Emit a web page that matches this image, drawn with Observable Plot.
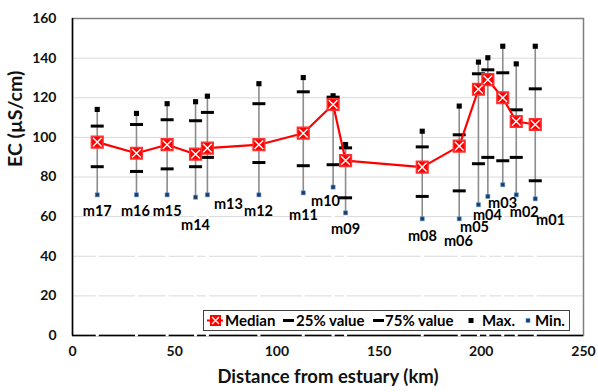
<!DOCTYPE html>
<html>
<head>
<meta charset="utf-8">
<script src="https://cdn.jsdelivr.net/npm/d3@7"></script>
<script src="https://cdn.jsdelivr.net/npm/@observablehq/plot@0.6"></script>
<style>
  html, body { margin: 0; padding: 0; background: #fff; }
  #wrap { position: relative; width: 598px; height: 392px; font-family: Lato, "Open Sans", sans-serif; }
  #wrap svg text { font-family: Lato, "Open Sans", sans-serif; font-weight: bold; }
  #legend { position: absolute; left: 203px; top: 310px; width: 365px; height: 19px; border: 1px solid #404040; background: #fff; font-size: 15px; font-weight: bold; color: #000; }
  #legend .it { position: absolute; top: 0; line-height: 19px; white-space: nowrap; }
  #legend svg { position: absolute; top: 0; }
</style>
</head>
<body>
<div id="wrap"></div>
<script>
const stations = ["m17","m16","m15","m14","m13","m12","m11","m10","m09","m08","m06","m05","m04","m03","m02","m01"];
const distance = [12.1,31.3,46.3,60.2,66.0,91.2,112.9,127.5,133.6,171.1,189.2,198.6,203.2,210.5,217.1,226.4];
const median = [97.6,92.0,96.3,91.5,94.6,96.3,102.1,116.6,88.3,85.0,95.6,124.3,129.1,120.0,108.0,106.5];
const q75 = [105.7,106.5,108.9,108.4,112.6,117.0,123.0,120.3,94.7,95.2,101.3,132.1,134.1,132.6,113.9,124.5];
const q25 = [85.2,82.8,84.1,85.2,89.9,87.3,85.7,86.2,69.5,70.2,73.0,86.7,89.9,88.2,89.9,78.1];
const maxV = [114.1,112.1,117.0,118.0,120.8,127.1,130.2,121.0,96.4,103.1,115.8,138.0,140.2,146.0,137.1,146.0];
const minV = [71.0,71.0,71.0,69.8,71.0,71.0,72.0,74.9,61.9,58.9,58.9,66.0,70.2,76.1,71.0,69.0];
// label anchor positions (km, µS/cm) as placed in the original figure
const labelX = [12.1,30.8,46.3,60.2,76.3,91.0,113.0,123.8,133.6,171.2,188.8,196.7,203.0,210.4,221.0,233.9];
const labelY = [62.7,62.7,62.7,55.7,66.0,62.6,60.6,67.8,53.5,50.0,47.5,54.7,60.6,66.6,62.1,58.1];

const xTicks = [0,50,100,150,200,250];
const yTicks = [0,20,40,60,80,100,120,140,160];

const data = stations.map((s,i) => ({
  name: s, km: distance[i], med: median[i], q75: q75[i], q25: q25[i],
  max: maxV[i], min: minV[i], lx: labelX[i], ly: labelY[i]
}));

const hbar = { draw(ctx) { ctx.moveTo(-6.5, 0); ctx.lineTo(6.5, 0); } };

const chart = Plot.plot({
  width: 598, height: 392,
  marginLeft: 72, marginRight: 15, marginTop: 18, marginBottom: 57,
  style: { background: "#fff", overflow: "visible" },
  x: { domain: [0, 250] },
  y: { domain: [0, 160] },
  marks: [
    Plot.gridY(yTicks, { stroke: "#d9d9d9", strokeOpacity: 1 }),
    Plot.frame({ stroke: "#7f7f7f", strokeWidth: 1.5 }),
    Plot.ruleY([0], { stroke: "#000", strokeWidth: 1.5 }),
    Plot.ruleX([0], { stroke: "#000", strokeWidth: 1.5 }),
    Plot.ruleX(data, { x: "km", y1: 0, y2: "min", stroke: "#fff", strokeWidth: 3, strokeLinecap: "square" }),
    Plot.axisY(yTicks, { tickSize: 0, tickPadding: 16, fontSize: 14, fontWeight: "bold", fill: "#111", label: null }),
    Plot.axisX(xTicks, { tickSize: 0, tickPadding: 11, fontSize: 14, fontWeight: "bold", fill: "#111", label: null }),
    Plot.text(["Distance from estuary (km)"], { frameAnchor: "bottom", dy: 47, fontSize: 18.5, fontWeight: "bold", fill: "#111" }),
    Plot.text(["EC (µS/cm)"], { frameAnchor: "left", dx: -57, dy: -10, rotate: -90, fontSize: 19.5, fontWeight: "bold", fill: "#111" }),
    Plot.ruleX(data, { x: "km", y1: "min", y2: "max", stroke: "#8c8c8c", strokeWidth: 1.6 }),
    Plot.dot(data, { x: "km", y: "q25", symbol: hbar, stroke: "#000", strokeWidth: 3, r: 4 }),
    Plot.dot(data, { x: "km", y: "q75", symbol: hbar, stroke: "#000", strokeWidth: 3, r: 4 }),
    Plot.dot(data, { x: "km", y: "max", symbol: "square", fill: "#000", stroke: "none", r: 2.9 }),
    Plot.dot(data, { x: "km", y: "min", symbol: "square", fill: "#1f3864", stroke: "#5b9bd5", strokeWidth: 0.6, r: 2.3 }),
    Plot.line(data, { x: "km", y: "med", stroke: "#ff0000", strokeWidth: 2.2 }),
    Plot.dot(data, { x: "km", y: "med", symbol: "square", fill: "#ff0000", stroke: "#ff3333", r: 6.6 }),
    Plot.dot(data, { x: "km", y: "med", symbol: "times", stroke: "#fff", strokeWidth: 1.4, r: 4 }),
    Plot.text(data, { x: "lx", y: "ly", text: "name", fontSize: 14.5, fontWeight: "bold", fill: "#000" })
  ]
});

const wrap = document.getElementById("wrap");
wrap.appendChild(chart);

const legend = document.createElement("div");
legend.id = "legend";
legend.innerHTML = `
  <svg style="left:2px" width="18" height="19"><line x1="1" y1="9.5" x2="17" y2="9.5" stroke="#ff0000" stroke-width="2"/><rect x="4" y="4" width="11" height="11" fill="#ff0000"/><path d="M6,6L13,13M13,6L6,13" stroke="#fff" stroke-width="1.3"/></svg>
  <span class="it" style="left:21px">Median</span>
  <svg style="left:79px" width="12" height="19"><line x1="0" y1="9.5" x2="11" y2="9.5" stroke="#000" stroke-width="3"/></svg>
  <span class="it" style="left:92px">25% value</span>
  <svg style="left:169px" width="12" height="19"><line x1="0" y1="9.5" x2="11" y2="9.5" stroke="#000" stroke-width="3"/></svg>
  <span class="it" style="left:181px">75% value</span>
  <svg style="left:264px" width="7" height="19"><rect x="0.5" y="7" width="5" height="5" fill="#000"/></svg>
  <span class="it" style="left:278px">Max.</span>
  <svg style="left:321px" width="7" height="19"><rect x="1" y="7.5" width="4" height="4" fill="#1f3864" stroke="#5b9bd5" stroke-width="0.6"/></svg>
  <span class="it" style="left:331px">Min.</span>
`;
wrap.appendChild(legend);
</script>
</body>
</html>
